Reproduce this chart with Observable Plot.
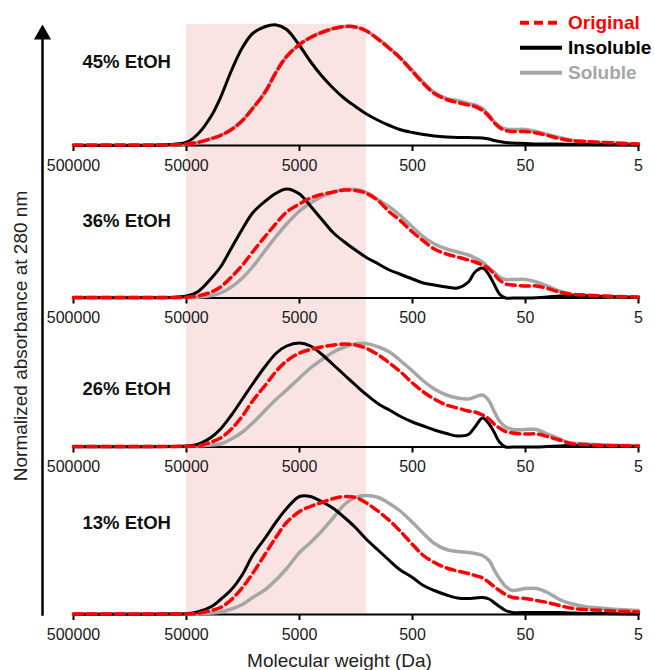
<!DOCTYPE html>
<html>
<head>
<meta charset="utf-8">
<script src="https://cdn.jsdelivr.net/npm/d3@7"></script>
<script src="https://cdn.jsdelivr.net/npm/@observablehq/plot@0.6"></script>
<style>
  html, body { margin: 0; padding: 0; background: #fff; }
  #wrap { position: relative; width: 655px; height: 670px; font-family: "Liberation Sans", Arial, sans-serif; }
  #legend { position: absolute; left: 518px; top: 8px; }
</style>
</head>
<body>
<div id="wrap"></div>
<script>
// ---- data ----
const MW = [500000, 100000, 70000, 50000, 40000, 30000, 25000, 20000, 16000, 13000,
            10000, 8000, 6500, 5000, 4000, 3200, 2500, 2000, 1600, 1300,
            1000, 800, 650, 500, 400, 320, 250, 200, 160, 140,
            120, 105, 95, 85, 75, 65, 50, 40, 32, 25,
            20, 15, 10, 5];

const PANELS = ["45% EtOH", "36% EtOH", "26% EtOH", "13% EtOH"];
const SERIES = ["Original", "Insoluble", "Soluble"];

const original45 = [0.5,0.5,0.7,1.5,3,7,10,16,25,37, 54,74,89,101,108,113,117,119,118.5,115, 106,97,88,74,62,52,46,43,40.5,39, 35,29,23,18,15,14,14,12.5,10,7, 5,4,3,1.5];
const insoluble45 = [0,0.3,1,3.3,11,30,48,75,98,112, 119,120.5,116,100,84,70,57,47,39,32, 25,20,16,13,11,9.5,8.5,8,8,7.8, 7.5,6.5,5,4,3,2.5,2,1.5,1.5,1.5, 1.2,1,0.8,0.5];
const soluble45  = [0.5,0.5,0.7,1.5,3,7,10,16,25,37, 54,74,89,101,108,113,117,119,118.5,115, 106.5,97.5,88.5,75,63,53,47,45,42,40.5, 37,30.5,24,19,16.5,16,16,14,11,8, 5.5,4,3,1.5];

const original36 = [0.5,0.5,0.5,0.8,2,6,11,21,33,46, 62,75,86,94,100,103.5,106,108,107.5,105, 97,86,78,66,57,49,44,41,38,36, 33,29,24,18,14,13,12,12,9.5,6, 4,3,2,1];
const insoluble36 = [0.3,0.3,0.5,2,6,20,31,50,69,85, 97,105,109,104,92,79,65,56,48,41, 34,28,24,19,15,13,11,10,16,26, 30,23,14,4,0,0,0,0.3,1,2, 2.2,2.2,1.5,0.5];
const soluble36  = [0.5,0.5,0.5,0.5,0.8,2.5,5,11,20,31, 48,62,74,87,95,101,106,108.5,108.5,106, 98,91,83,71,61,54,49,46,43,40, 36,30,26,21,18.5,18.5,18.5,16,12,7, 3.5,2.5,1.5,1];

const original26 = [0.5,0.5,0.5,0.8,1,5,9,18,31,46, 62,76,86,94,97.5,100,102,103,102,99, 92,84,76,64,55,48,42,39,36,35, 32,28,23,19,15.5,14,13,13,10.5,7, 3.5,2.5,1.5,1];
const insoluble26 = [0.3,0.3,0.5,1,2.5,10,18,32,48,63, 81,94,101,104,101,93,82,72,62,53, 43,37,31,25,21,17,13.5,11,12.5,20, 29,23,15,5,0,0,0,0,0.5,1, 1.5,1.5,1.2,0.5];
const soluble26  = [0.5,0.5,0.5,0.5,1,2,3,8,15,24, 37,48,57,69,79,87,95,100,103,103.5, 100,95,87,76,66,58,52,49,48,50, 52,46,36,26,20,17.5,17.5,17.5,13,8, 4,3,2,1.5];

const original13 = [0.5,0.5,0.5,0.5,1,4,7,15,27,41, 61,78,92,103,108,112,116,118,117,112, 103,94,84,70,59,52,46.5,43.5,41,39, 36.5,32,28,24,20,17,16,14,12,9, 6.5,5,4,2.5];
const insoluble13 = [0.3,0.3,0.5,0.8,2.5,8,15,25,40,59, 77,93,106,118,118,113,106,97,87,76, 64,54,45,37,29,24,19.5,16.5,16,16.5, 17,15.5,12,8,4,2,2,2,2,2, 1.5,1,1,0.5];
const soluble13  = [0.5,0.5,0.5,0.5,0.8,1.5,2.5,5.5,10,17, 25,35,46,62,72,83,97,110,117,119, 117,111,104,92,81,71,65,63,62,61, 59,54,45,36,28,24,26,26,22,15, 11,8,6,4];

const TICKS = [500000, 50000, 5000, 500, 50, 5];
const TICK_LABELS = ["500000", "50000", "5000", "500", "50", "5"];
const SHADE = {from: 50000, to: 1280};

// ---- layout (panel baselines and label heights, in y units) ----
const OFFSETS = [469, 316.5, 167.5, 0];
const LABEL_Y = [83.5, 76.5, 57.5, 91];
const Y_TOP = 590;

const COLORS = {Original: "#ff0000", Insoluble: "#000000", Soluble: "#a6a6a6"};

const seriesByPanel = [
  {Original: original45, Insoluble: insoluble45, Soluble: soluble45},
  {Original: original36, Insoluble: insoluble36, Soluble: soluble36},
  {Original: original26, Insoluble: insoluble26, Soluble: soluble26},
  {Original: original13, Insoluble: insoluble13, Soluble: soluble13}
];

function rows(seriesName) {
  const out = [];
  seriesByPanel.forEach((s, p) => {
    s[seriesName].forEach((v, j) => out.push({panel: p, mw: MW[j], y: v + OFFSETS[p]}));
  });
  return out;
}

const tickRows = [];
OFFSETS.forEach((base, p) => TICKS.forEach((t, k) => tickRows.push({base, mw: t, label: TICK_LABELS[k]})));

const font = "Liberation Sans, Arial, sans-serif";

const chart = Plot.plot({
  width: 655,
  height: 670,
  marginLeft: 73,
  marginRight: 17,
  marginTop: 24,
  marginBottom: 56,
  style: {fontFamily: font, background: "white", overflow: "visible"},
  x: {type: "log", domain: [5, 500000], reverse: true, axis: null},
  y: {domain: [0, Y_TOP], axis: null},
  marks: [
    Plot.rect([SHADE], {x1: "from", x2: "to", y1: 0, y2: Y_TOP, fill: "#fae3e3"}),
    Plot.ruleY(OFFSETS, {x1: 500000, x2: 5, stroke: "black", strokeWidth: 2}),
    Plot.ruleX(tickRows, {x: "mw", y1: "base", y2: d => d.base - 6, stroke: "black", strokeWidth: 2}),
    Plot.text(tickRows, {x: "mw", y: "base", text: "label", dy: 20, fontSize: 16, fill: "#1a1a1a", textAnchor: "middle", lineAnchor: "middle"}),
    Plot.line(rows("Soluble"), {x: "mw", y: "y", z: "panel", stroke: COLORS.Soluble, strokeWidth: 3.5, curve: "catmull-rom"}),
    Plot.line(rows("Insoluble"), {x: "mw", y: "y", z: "panel", stroke: COLORS.Insoluble, strokeWidth: 3, curve: "catmull-rom"}),
    Plot.line(rows("Original"), {x: "mw", y: "y", z: "panel", stroke: COLORS.Original, strokeWidth: 3.5, strokeDasharray: "9,5", curve: "catmull-rom"}),
    Plot.text(PANELS.map((name, p) => ({name, y: OFFSETS[p] + LABEL_Y[p]})), {
      y: "y", text: "name", frameAnchor: "left", dx: 9, textAnchor: "start", lineAnchor: "middle",
      fontSize: 18.5, fontWeight: "bold", fill: "#111"
    }),
    // y axis with arrow head
    Plot.frame({anchor: "left", stroke: "black", strokeWidth: 2.5, dx: -31, insetTop: 12}),
    Plot.dot([0], {frameAnchor: "top-left", symbol: "triangle", r: 6.4, fill: "black", stroke: "none", dx: -31, dy: 10}),
    Plot.text(["Normalized absorbance at 280 nm"], {frameAnchor: "left", dx: -53, dy: 16.5, rotate: -90, fontSize: 19, fill: "#222", textAnchor: "middle", lineAnchor: "middle"}),
    Plot.text(["Molecular weight (Da)"], {frameAnchor: "bottom", dx: -16.5, dy: 46, fontSize: 19, fill: "#222", textAnchor: "middle", lineAnchor: "middle"})
  ]
});

const wrap = document.getElementById("wrap");
wrap.appendChild(chart);

// legend overlay
const legend = d3.select(wrap).append("svg").attr("id", "legend")
  .attr("width", 137).attr("height", 80).style("overflow", "visible");
SERIES.forEach((name, i) => {
  const y = 14.7 + i * 25;
  legend.append("line").attr("x1", 2).attr("x2", 44).attr("y1", y).attr("y2", y)
    .attr("stroke", COLORS[name]).attr("stroke-width", 4)
    .attr("stroke-dasharray", name === "Original" ? "9,5" : null);
  legend.append("text").attr("x", 50).attr("y", y).attr("dy", "0.35em")
    .attr("fill", COLORS[name]).attr("font-family", font).attr("font-weight", "bold")
    .attr("font-size", 19).text(name);
});
</script>
</body>
</html>
